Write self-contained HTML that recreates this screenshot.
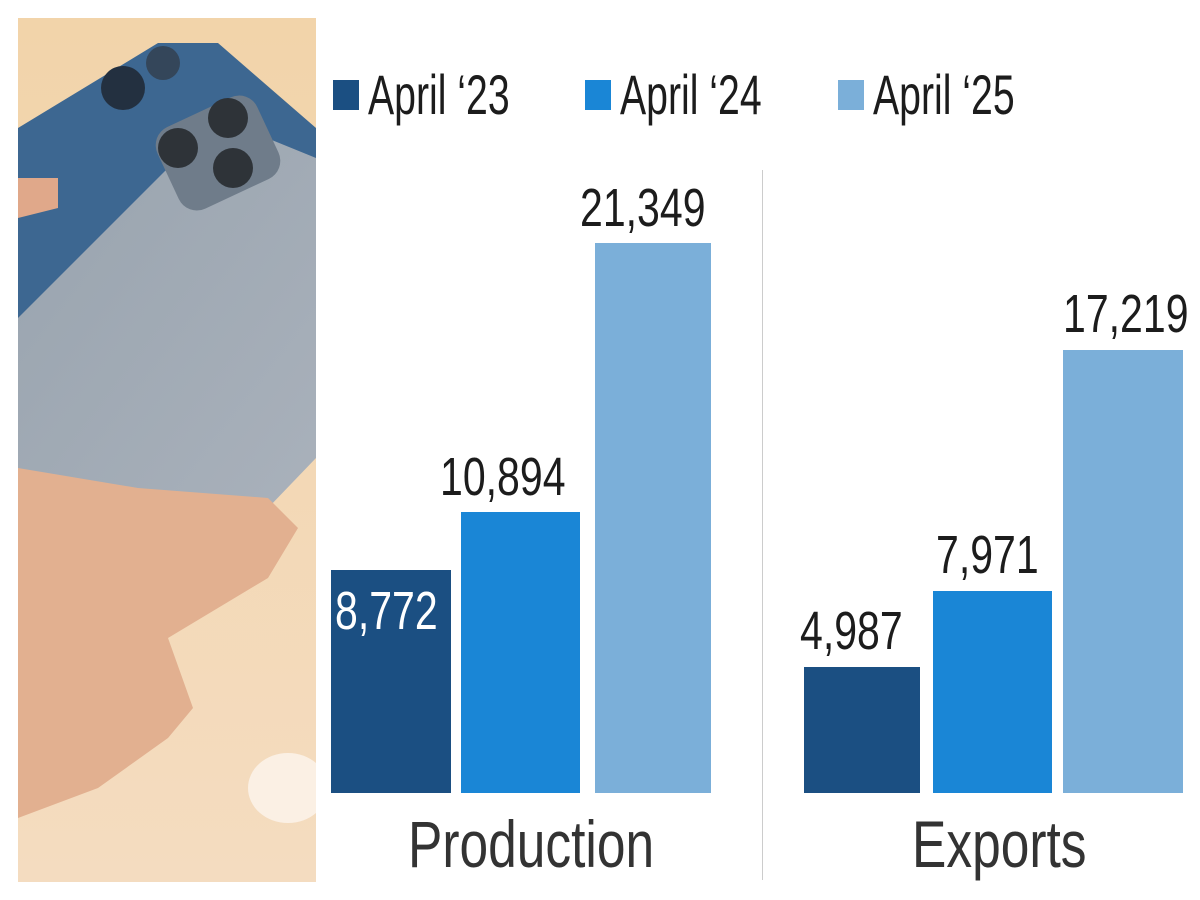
<!DOCTYPE html>
<html><head><meta charset="utf-8"><style>
body{margin:0;background:#fff;width:1200px;height:900px;overflow:hidden;position:relative;font-family:"Liberation Sans",sans-serif}
.t{position:absolute;color:#1c1c1c;white-space:nowrap;font-family:"Liberation Sans",sans-serif;transform-origin:0 0}
.bar{position:absolute}
.d{background:#1b4f82}.m{background:#1a86d6}.l{background:#7bafd9}
.sq{position:absolute;width:26px;height:30px}
</style></head><body>
<svg style="position:absolute;left:18px;top:18px" width="298" height="864" viewBox="0 0 298 864">
<defs><linearGradient id="bg" x1="0" y1="0" x2="0" y2="1"><stop offset="0" stop-color="#f2d4aa"/><stop offset="1" stop-color="#f4dcc0"/></linearGradient>
<linearGradient id="gp" x1="0" y1="0" x2="1" y2="1"><stop offset="0" stop-color="#98a3ae"/><stop offset="1" stop-color="#a9b1bb"/></linearGradient></defs>
<rect width="298" height="864" fill="url(#bg)"/>
<ellipse cx="270" cy="770" rx="40" ry="35" fill="#fbf0e4"/>
<polygon points="0,110 140,25 200,25 298,110 298,250 0,330" fill="#3d6791"/>
<polygon points="0,300 200,100 298,140 298,440 250,490 0,470" fill="url(#gp)"/>
<polygon points="0,450 120,470 250,480 280,510 250,560 150,620 175,690 150,720 80,770 0,800" fill="#e2b090"/>
<polygon points="0,160 40,160 40,190 0,200" fill="#e0a88a"/>
<rect x="145" y="90" width="110" height="90" rx="20" fill="#6f7c8a" transform="rotate(-25 200 135)"/>
<circle cx="210" cy="100" r="20" fill="#2e3338"/><circle cx="160" cy="130" r="20" fill="#2e3338"/><circle cx="215" cy="150" r="20" fill="#2e3338"/>
<circle cx="105" cy="70" r="22" fill="#233040"/><circle cx="145" cy="45" r="17" fill="#34465a"/>
</svg>
<div class="sq" style="left:333px;top:80px;background:#1b4f82"></div>
<div class="t" style="left:368px;top:62px;font-size:56px;transform:scaleX(0.7)">April ‘23</div>
<div class="sq" style="left:585px;top:80px;background:#1a86d6"></div>
<div class="t" style="left:620px;top:62px;font-size:56px;transform:scaleX(0.7)">April ‘24</div>
<div class="sq" style="left:838px;top:80px;background:#7bafd9"></div>
<div class="t" style="left:873px;top:62px;font-size:56px;transform:scaleX(0.7)">April ‘25</div>
<div style="position:absolute;left:762px;top:170px;width:1px;height:710px;background:#ccc"></div>
<div class="bar d" style="left:331px;top:570px;width:120px;height:223px"></div>
<div class="bar m" style="left:461px;top:512px;width:119px;height:281px"></div>
<div class="bar l" style="left:595px;top:243px;width:116px;height:550px"></div>
<div class="bar d" style="left:804px;top:667px;width:116px;height:126px"></div>
<div class="bar m" style="left:933px;top:591px;width:119px;height:202px"></div>
<div class="bar l" style="left:1063px;top:350px;width:120px;height:443px"></div>
<div class="t" style="left:335px;top:580px;font-size:54px;color:#fff;transform:scaleX(0.76)">8,772</div>
<div class="t" style="left:440px;top:446px;font-size:54px;transform:scaleX(0.76)">10,894</div>
<div class="t" style="left:580px;top:177px;font-size:54px;transform:scaleX(0.76)">21,349</div>
<div class="t" style="left:800px;top:600px;font-size:54px;transform:scaleX(0.76)">4,987</div>
<div class="t" style="left:936px;top:524px;font-size:54px;transform:scaleX(0.76)">7,971</div>
<div class="t" style="left:1063px;top:283px;font-size:54px;transform:scaleX(0.76)">17,219</div>
<div class="t" style="left:408px;top:806px;font-size:66px;color:#333;transform:scaleX(0.78)">Production</div>
<div class="t" style="left:912px;top:806px;font-size:66px;color:#333;transform:scaleX(0.78)">Exports</div>
</body></html>
